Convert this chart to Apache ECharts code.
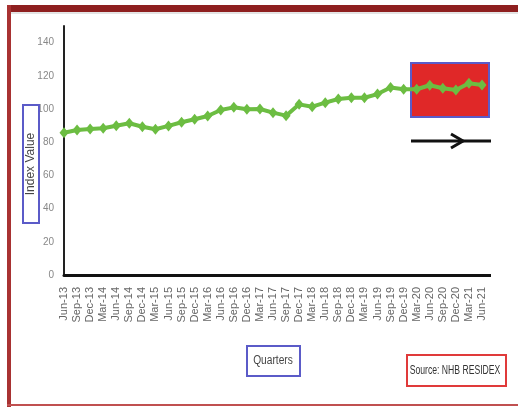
<!DOCTYPE html>
<html>
<head>
<meta charset="utf-8">
<script src="https://cdn.jsdelivr.net/npm/echarts@6/dist/echarts.min.js"></script>
<style>html,body{margin:0;padding:0;background:#fff;}#c{width:518px;height:408px;}</style>
</head>
<body>
<div id="c"></div>
<script>
var categories = ['Jun-13','Sep-13','Dec-13','Mar-14','Jun-14','Sep-14','Dec-14','Mar-15','Jun-15','Sep-15','Dec-15','Mar-16','Jun-16','Sep-16','Dec-16','Mar-17','Jun-17','Sep-17','Dec-17','Mar-18','Jun-18','Sep-18','Dec-18','Mar-19','Jun-19','Sep-19','Dec-19','Mar-20','Jun-20','Sep-20','Dec-20','Mar-21','Jun-21'];
var indexValues = [85.7, 87.3, 88.0, 88.4, 89.9, 91.4, 89.3, 87.8, 89.8, 92.0, 93.8, 95.8, 99.4, 101.0, 99.8, 100.0, 97.8, 96.0, 102.8, 101.4, 103.8, 106.0, 106.8, 106.8, 109.0, 113.0, 111.9, 111.9, 114.3, 112.5, 111.4, 115.5, 114.5];
var yTicks = [0, 20, 40, 60, 80, 100, 120, 140];
var yAxisTitle = 'Index Value';
var xAxisTitle = 'Quarters';
var sourceText = 'Source: NHB RESIDEX';

var chart = echarts.init(document.getElementById('c'), null, {renderer: 'canvas'});
chart.setOption({
  animation: false,
  backgroundColor: '#ffffff',
  grid: {left: 64, right: 36, top: 26, bottom: 133, containLabel: false},
  xAxis: {
    type: 'category',
    data: categories,
    boundaryGap: false,
    axisLine: {show: true, lineStyle: {color: '#111', width: 3}},
    axisTick: {show: false},
    splitLine: {show: false},
    axisLabel: {rotate: 90, interval: 0, margin: 12, fontSize: 11, color: '#666', fontFamily: 'Liberation Sans'}
  },
  yAxis: {
    type: 'value',
    min: 0,
    max: 150,
    interval: 20,
    axisLine: {show: true, lineStyle: {color: '#222', width: 2}},
    axisTick: {show: false},
    splitLine: {show: false},
    axisLabel: {
      showMaxLabel: false, margin: 10, fontSize: 10, color: '#888', fontFamily: 'Liberation Sans',
      formatter: function (v) { return yTicks.indexOf(v) >= 0 ? String(v) : ''; }
    }
  },
  graphic: [
    {type: 'rect', z: 0, shape: {x: 411, y: 63, width: 78, height: 54}, style: {fill: '#e02828', stroke: '#5b5bc8', lineWidth: 2}},
    {type: 'line', z: 0, shape: {x1: 481, y1: 275.5, x2: 491, y2: 275.5}, style: {stroke: '#111', lineWidth: 3}},
    {type: 'line', z: 5, shape: {x1: 411, y1: 141, x2: 491, y2: 141}, style: {stroke: '#111', lineWidth: 3}},
    {type: 'polyline', z: 5, shape: {points: [[451, 134], [463, 141], [451, 148]]}, style: {stroke: '#111', lineWidth: 3, fill: null}},
    {type: 'rect', z: 5, shape: {x: 23, y: 105, width: 16, height: 118}, style: {fill: null, stroke: '#5b5bc8', lineWidth: 2}},
    {type: 'text', z: 6, x: 31, y: 164, rotation: Math.PI / 2, style: {text: yAxisTitle, fontSize: 12, fill: '#444', fontFamily: 'Liberation Sans', align: 'center', verticalAlign: 'middle'}},
    {type: 'rect', z: 5, shape: {x: 247, y: 346, width: 53, height: 30}, style: {fill: null, stroke: '#5b5bc8', lineWidth: 2}},
    {type: 'text', z: 6, x: 273, y: 361, scaleX: 0.85, style: {text: xAxisTitle, fontSize: 12, fill: '#444', fontFamily: 'Liberation Sans', align: 'center', verticalAlign: 'middle'}},
    {type: 'rect', z: 5, shape: {x: 407, y: 355, width: 99, height: 31}, style: {fill: null, stroke: '#e03a3a', lineWidth: 2}},
    {type: 'text', z: 6, x: 455, y: 371, scaleX: 0.72, style: {text: sourceText, fontSize: 12, fill: '#333', fontFamily: 'Liberation Sans', align: 'center', verticalAlign: 'middle'}},
    {type: 'rect', z: 5, shape: {x: 7, y: 5, width: 520, height: 7}, style: {fill: '#8e1f1f'}},
    {type: 'line', z: 5, shape: {x1: 7, y1: 13, x2: 518, y2: 13}, style: {stroke: '#c8c8c8', lineWidth: 1}},
    {type: 'line', z: 5, shape: {x1: 9, y1: 5, x2: 9, y2: 407}, style: {stroke: '#a83232', lineWidth: 4}},
    {type: 'line', z: 5, shape: {x1: 7, y1: 405, x2: 518, y2: 405}, style: {stroke: '#c05050', lineWidth: 2}}
  ],
  series: [{
    type: 'line',
    data: indexValues,
    z: 3,
    symbol: 'diamond',
    symbolSize: [9, 11],
    showSymbol: true,
    lineStyle: {color: '#6cbd42', width: 4},
    itemStyle: {color: '#6cbd42'}
  }]
});
</script>
</body>
</html>
